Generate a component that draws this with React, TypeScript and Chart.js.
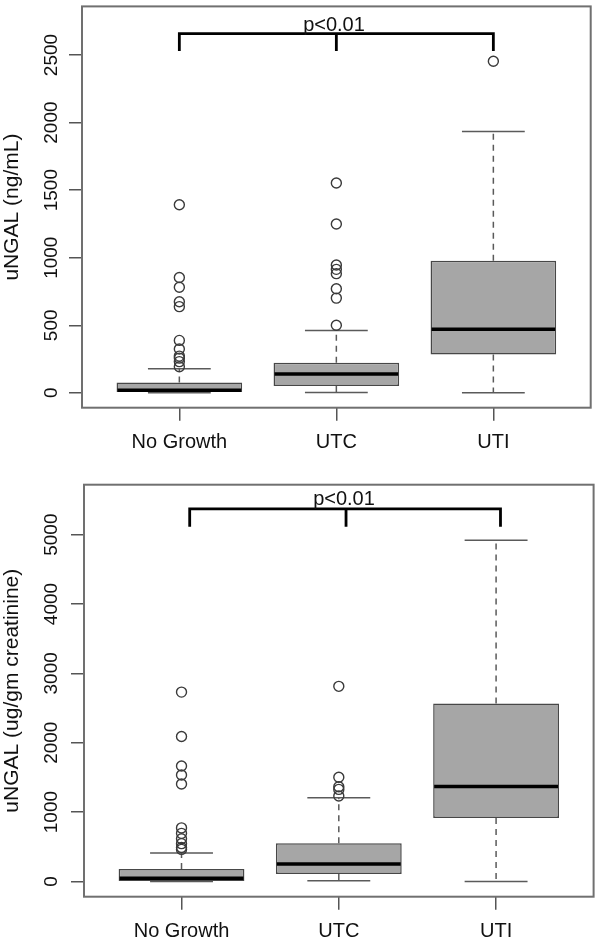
import React, { useEffect, useRef } from 'react';
import { Chart, registerables } from 'chart.js';

Chart.register(...registerables);
Chart.defaults.font.family = '"Liberation Sans", Arial, Helvetica, sans-serif';

// ---------- shared categories ----------
const categories = ['No Growth', 'UTC', 'UTI'];
const categoryPositions = [1, 2, 3];

// ---------- Panel A: uNGAL (ng/mL) ----------
const ngmlTitle = 'uNGAL (ng/mL)';
const ngmlTicks = [0, 500, 1000, 1500, 2000, 2500];
const ngmlRange = [-110, 2860];
const ngmlLowerWhisker = [0, 3, 0];
const ngmlQ1 = [7, 51, 283];
const ngmlMedian = [20, 139, 471];
const ngmlQ3 = [77, 222, 977];
const ngmlUpperWhisker = [179, 461, 1935];
const ngmlOutliersNoGrowth = [1392, 854, 781, 674, 638, 388, 324, 272, 257, 231, 193];
const ngmlOutliersUTC = [1553, 1250, 946, 914, 882, 770, 701, 500];
const ngmlOutliersUTI = [2454];
const ngmlBracketX = [1, 2, 3];
const ngmlBracketY = [2659, 2529];
const ngmlPText = 'p<0.01';
const ngmlPTextPos = [1.985, 2680];

// ---------- Panel B: uNGAL (ug/gm creatinine) ----------
const creatTitle = 'uNGAL (ug/gm creatinine)';
const creatTicks = [0, 1000, 2000, 3000, 4000, 5000];
const creatRange = [-220, 5720];
const creatLowerWhisker = [0, 10, 0];
const creatQ1 = [8, 107, 914];
const creatMedian = [45, 251, 1370];
const creatQ3 = [178, 550, 2564];
const creatUpperWhisker = [409, 1207, 4919];
const creatOutliersNoGrowth = [2730, 2090, 1665, 1535, 1405, 772, 693, 615, 545, 490, 462];
const creatOutliersUTC = [2813, 1503, 1365, 1327, 1231];
const creatOutliersUTI: number[] = [];
const creatBracketX = [1.052, 2.046, 3.028];
const creatBracketY = [5371, 5112];
const creatPText = 'p<0.01';
const creatPTextPos = [2.033, 5433];

// ---------- styles ----------
const BOX_FILL = '#a6a6a6';
const BOX_EDGE = '#474747';
const WHISKER = '#5a5a5a';
const FRAME = '#707070';
const TEXT = '#111111';
const FONT = '"Liberation Sans", Arial, Helvetica, sans-serif';

type PanelData = {
  title: string;
  ticks: number[];
  range: number[];
  lower: number[];
  q1: number[];
  median: number[];
  q3: number[];
  upper: number[];
  outliers: number[][];
  bracketX: number[];
  bracketY: number[];
  pText: string;
  pTextPos: number[];
};

type PanelLayout = {
  width: number;
  height: number;
  top: number;
  plotLeft: number;
  plotRight: number;
  plotTop: number;
  plotBottom: number;
  tickLabelX: number;
};

const panelA: PanelData = {
  title: ngmlTitle,
  ticks: ngmlTicks,
  range: ngmlRange,
  lower: ngmlLowerWhisker,
  q1: ngmlQ1,
  median: ngmlMedian,
  q3: ngmlQ3,
  upper: ngmlUpperWhisker,
  outliers: [ngmlOutliersNoGrowth, ngmlOutliersUTC, ngmlOutliersUTI],
  bracketX: ngmlBracketX,
  bracketY: ngmlBracketY,
  pText: ngmlPText,
  pTextPos: ngmlPTextPos,
};

const panelB: PanelData = {
  title: creatTitle,
  ticks: creatTicks,
  range: creatRange,
  lower: creatLowerWhisker,
  q1: creatQ1,
  median: creatMedian,
  q3: creatQ3,
  upper: creatUpperWhisker,
  outliers: [creatOutliersNoGrowth, creatOutliersUTC, creatOutliersUTI],
  bracketX: creatBracketX,
  bracketY: creatBracketY,
  pText: creatPText,
  pTextPos: creatPTextPos,
};

const layoutA: PanelLayout = {
  width: 600, height: 470, top: 0,
  plotLeft: 82, plotRight: 590.7, plotTop: 1.4, plotBottom: 407.7, tickLabelX: 56.5,
};
const layoutB: PanelLayout = {
  width: 600, height: 471, top: 470,
  plotLeft: 84, plotRight: 598, plotTop: 14.7, plotBottom: 426.7, tickLabelX: 57,
};

function buildChart(canvas: HTMLCanvasElement, d: PanelData, L: PanelLayout) {
  const outlierPoints: { x: number; y: number }[] = [];
  d.outliers.forEach((arr, i) => arr.forEach((v) => outlierPoints.push({ x: categoryPositions[i], y: v })));

  const boxPlugin = {
    id: 'boxExtras',
    beforeDatasetsDraw(chart: any) {
      const { ctx } = chart;
      const x = chart.scales.x;
      const y = chart.scales.y;
      const unit = x.getPixelForValue(2) - x.getPixelForValue(1);
      const capHalf = unit * 0.2;
      ctx.save();
      ctx.strokeStyle = WHISKER;
      ctx.lineWidth = 1.5;
      categoryPositions.forEach((c, i) => {
        const px = x.getPixelForValue(c);
        ctx.setLineDash([6, 5]);
        ctx.beginPath();
        ctx.moveTo(px, y.getPixelForValue(d.q3[i]));
        ctx.lineTo(px, y.getPixelForValue(d.upper[i]));
        ctx.moveTo(px, y.getPixelForValue(d.q1[i]));
        ctx.lineTo(px, y.getPixelForValue(d.lower[i]));
        ctx.stroke();
        ctx.setLineDash([]);
        ctx.beginPath();
        const yu = y.getPixelForValue(d.upper[i]);
        const yl = y.getPixelForValue(d.lower[i]);
        ctx.moveTo(px - capHalf, yu);
        ctx.lineTo(px + capHalf, yu);
        ctx.moveTo(px - capHalf, yl);
        ctx.lineTo(px + capHalf, yl);
        ctx.stroke();
      });
      ctx.restore();
    },
    afterDatasetDraw(chart: any, args: any) {
      if (args.index !== 0) return;
      const { ctx } = chart;
      const x = chart.scales.x;
      const y = chart.scales.y;
      const unit = x.getPixelForValue(2) - x.getPixelForValue(1);
      const half = unit * 0.4;
      ctx.save();
      ctx.strokeStyle = '#000000';
      ctx.lineWidth = 3.5;
      categoryPositions.forEach((c, i) => {
        const px = x.getPixelForValue(c);
        const py = y.getPixelForValue(d.median[i]);
        ctx.beginPath();
        ctx.moveTo(px - half + 1, py);
        ctx.lineTo(px + half - 1, py);
        ctx.stroke();
      });
      ctx.restore();
    },
    afterDraw(chart: any) {
      const { ctx, chartArea } = chart;
      const x = chart.scales.x;
      const y = chart.scales.y;
      ctx.save();
      // frame
      ctx.strokeStyle = FRAME;
      ctx.lineWidth = 2;
      ctx.strokeRect(chartArea.left, chartArea.top, chartArea.right - chartArea.left, chartArea.bottom - chartArea.top);
      // y tick labels (rotated, as in R)
      ctx.fillStyle = TEXT;
      ctx.font = `19px ${FONT}`;
      ctx.textAlign = 'center';
      ctx.textBaseline = 'alphabetic';
      y.ticks.forEach((t: any) => {
        const py = y.getPixelForValue(t.value);
        ctx.save();
        ctx.translate(L.tickLabelX, py);
        ctx.rotate(-Math.PI / 2);
        ctx.fillText(String(t.value), 0, 0);
        ctx.restore();
      });
      // significance bracket
      const [bl, bm, br] = d.bracketX.map((v) => x.getPixelForValue(v));
      const yTop = y.getPixelForValue(d.bracketY[0]);
      const yDrop = y.getPixelForValue(d.bracketY[1]);
      ctx.strokeStyle = '#000000';
      ctx.lineWidth = 2.8;
      ctx.lineJoin = 'miter';
      ctx.beginPath();
      ctx.moveTo(bl, yDrop);
      ctx.lineTo(bl, yTop);
      ctx.lineTo(br, yTop);
      ctx.lineTo(br, yDrop);
      ctx.moveTo(bm, yTop);
      ctx.lineTo(bm, yDrop);
      ctx.stroke();
      ctx.font = `20px ${FONT}`;
      ctx.fillText(d.pText, x.getPixelForValue(d.pTextPos[0]), y.getPixelForValue(d.pTextPos[1]));
      ctx.restore();
    },
  };

  const gridOpts = {
    drawOnChartArea: false,
    drawTicks: true,
    tickLength: 13,
    offset: false,
    color: '#555555',
    tickColor: '#555555',
    lineWidth: 1.5,
    tickWidth: 1.5,
  };

  return new Chart(canvas, {
    type: 'bar',
    data: {
      datasets: [
        {
          type: 'bar',
          data: categoryPositions.map((c, i) => ({ x: c, y: [d.q1[i], d.q3[i]] })) as any,
          backgroundColor: BOX_FILL,
          borderColor: BOX_EDGE,
          borderWidth: 1.5,
          borderSkipped: false,
          barPercentage: 0.8,
          categoryPercentage: 1,
          order: 2,
        } as any,
        {
          type: 'scatter',
          data: outlierPoints as any,
          pointStyle: 'circle',
          pointRadius: 5,
          pointBorderWidth: 1.4,
          pointBorderColor: '#3a3a3a',
          pointBackgroundColor: 'rgba(0,0,0,0)',
          showLine: false,
          order: 1,
        } as any,
      ],
    },
    options: {
      responsive: false,
      animation: false,
      devicePixelRatio: 1,
      layout: { padding: { left: 0, right: L.width - L.plotRight, top: L.plotTop, bottom: 0 } },
      plugins: { legend: { display: false }, tooltip: { enabled: false } },
      scales: {
        x: {
          type: 'linear',
          min: 0.38,
          max: 3.62,
          offset: false,
          afterBuildTicks: (s: any) => {
            s.ticks = categoryPositions.map((v) => ({ value: v }));
          },
          ticks: {
            callback: (v: any) => {
              const i = categoryPositions.indexOf(Number(v));
              return i >= 0 ? categories[i] : '';
            },
            font: { size: 20 },
            color: TEXT,
            padding: 10,
            autoSkip: false,
            maxRotation: 0,
            minRotation: 0,
          },
          grid: gridOpts,
          border: { display: false },
          afterFit: (s: any) => {
            s.height = L.height - L.plotBottom;
          },
        },
        y: {
          type: 'linear',
          min: d.range[0],
          max: d.range[1],
          afterBuildTicks: (s: any) => {
            s.ticks = d.ticks.map((v) => ({ value: v }));
          },
          ticks: { display: false, autoSkip: false },
          grid: gridOpts,
          border: { display: false },
          title: {
            display: true,
            text: d.title,
            font: { size: 21 },
            color: TEXT,
            padding: { top: 0, bottom: 0 },
          },
          afterFit: (s: any) => {
            s.width = L.plotLeft;
          },
        },
      },
    } as any,
    plugins: [boxPlugin],
  });
}

function Panel({ data, layout }: { data: PanelData; layout: PanelLayout }) {
  const ref = useRef<HTMLCanvasElement | null>(null);
  useEffect(() => {
    if (!ref.current) return;
    const chart = buildChart(ref.current, data, layout);
    return () => chart.destroy();
  }, [data, layout]);
  return (
    <canvas
      ref={ref}
      width={layout.width}
      height={layout.height}
      style={{ position: 'absolute', left: 0, top: layout.top, width: layout.width, height: layout.height }}
    />
  );
}

export default function App() {
  return (
    <div style={{ position: 'absolute', left: 0, top: 0, width: 600, height: 941, background: '#ffffff', overflow: 'hidden' }}>
      <Panel data={panelA} layout={layoutA} />
      <Panel data={panelB} layout={layoutB} />
    </div>
  );
}
